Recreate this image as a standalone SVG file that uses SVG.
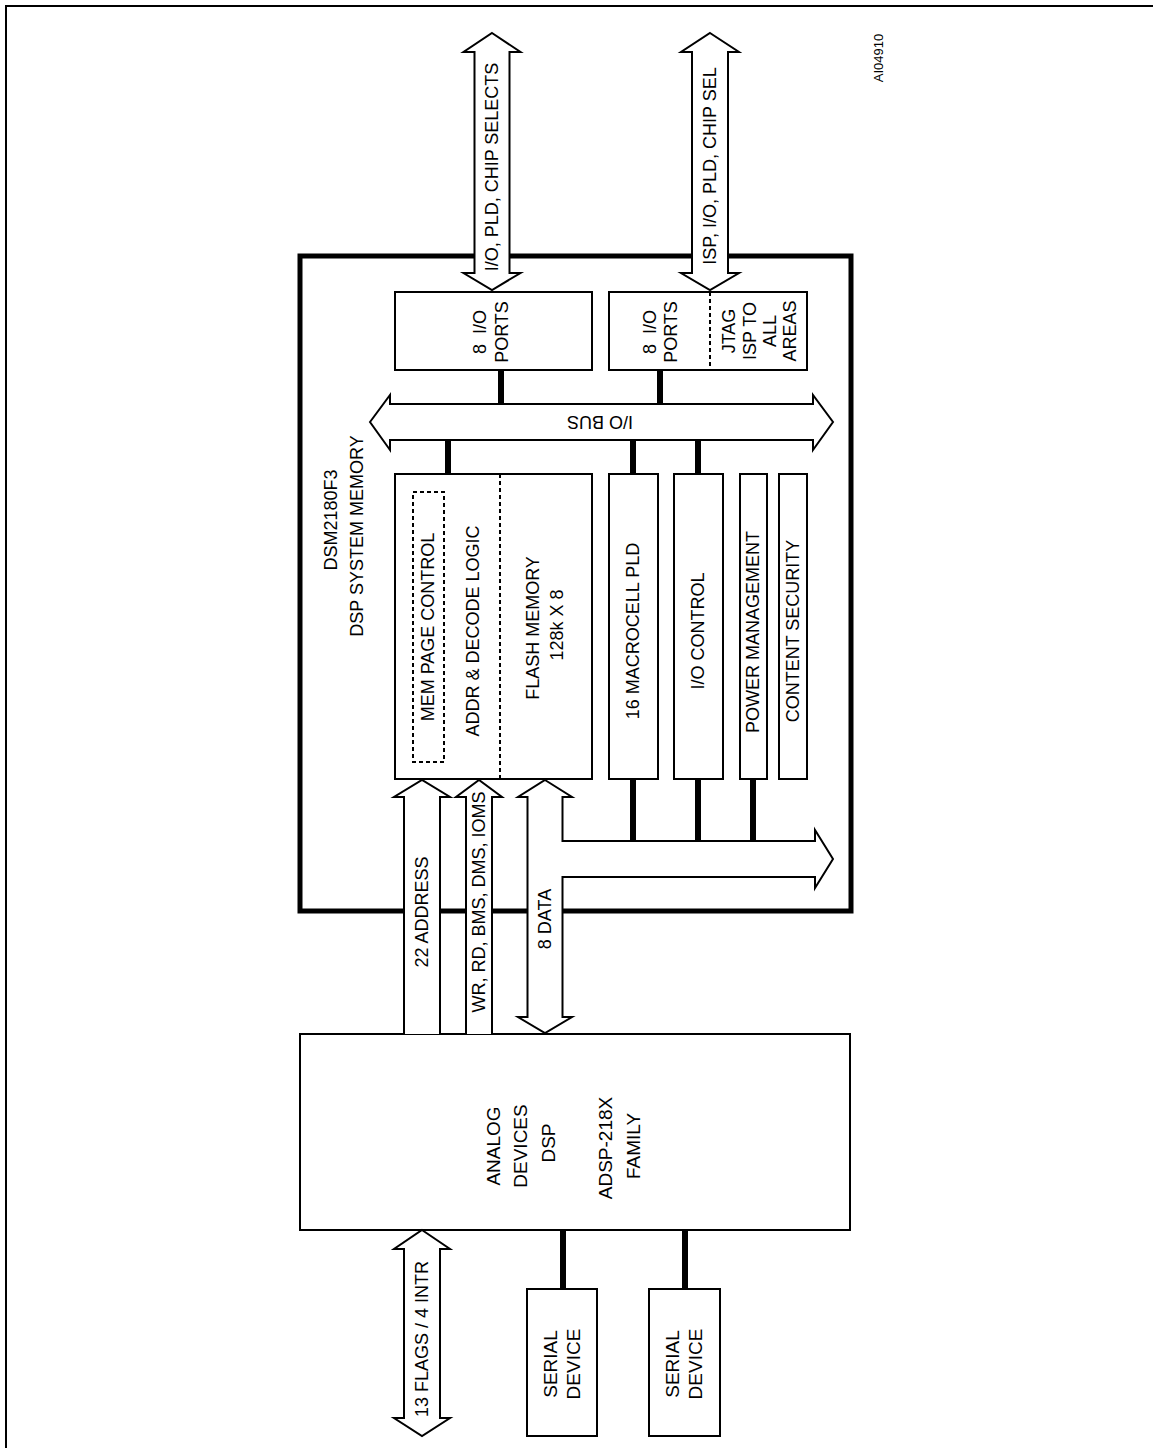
<svg xmlns="http://www.w3.org/2000/svg" width="1153" height="1448" viewBox="0 0 1153 1448">
<style>
.t{font-family:"Liberation Sans",Arial,sans-serif;font-size:18px;fill:#000;text-anchor:middle}
.b{font-family:"Liberation Sans",Arial,sans-serif;font-size:19px;fill:#000;text-anchor:middle}
.s{font-family:"Liberation Sans",Arial,sans-serif;font-size:13px;fill:#000;text-anchor:middle}
.box{fill:#fff;stroke:#000;stroke-width:2}
.dot{fill:none;stroke:#000;stroke-width:2;stroke-dasharray:4 3}
.arr{fill:#fff;stroke:#000;stroke-width:2;stroke-linejoin:miter}
.fillw{fill:#fff;stroke:none}
.line{fill:none;stroke:#000;stroke-width:2}
.con{stroke:#000;stroke-width:6}
</style>
<rect width="1153" height="1448" fill="#fff"/>
<g id="frame">
<path d="M6,1448 V6 H1153" class="line"/>
</g>
<g id="dsm">
<rect x="300" y="256" width="551" height="655" fill="#fff" stroke="#000" stroke-width="5"/>
<text class="t" transform="translate(331,520) rotate(-90)" dy="0.35em">DSM2180F3</text>
<text class="t" transform="translate(357,536) rotate(-90)" dy="0.35em">DSP SYSTEM MEMORY</text>
</g>
<g id="ports1">
<rect x="395" y="292" width="197" height="78" class="box"/>
<text class="t" transform="translate(480,332) rotate(-90)" dy="0.35em">8&#160; I/O</text>
<text class="t" transform="translate(502,332) rotate(-90)" dy="0.35em">PORTS</text>
</g>
<g id="ports2">
<rect x="609" y="292" width="198" height="78" class="box"/>
<line x1="710" y1="292" x2="710" y2="370" class="dot"/>
<text class="t" transform="translate(650,332) rotate(-90)" dy="0.35em">8&#160; I/O</text>
<text class="t" transform="translate(671,332) rotate(-90)" dy="0.35em">PORTS</text>
<text class="t" transform="translate(729,331) rotate(-90)" dy="0.35em">JTAG</text>
<text class="t" transform="translate(750,331) rotate(-90)" dy="0.35em">ISP TO</text>
<text class="t" transform="translate(770,331) rotate(-90)" dy="0.35em">ALL</text>
<text class="t" transform="translate(790,331) rotate(-90)" dy="0.35em">AREAS</text>
</g>
<g id="flash">
<rect x="395" y="474" width="197" height="305" class="box"/>
<rect x="413" y="492" width="31" height="270" class="dot"/>
<line x1="500" y1="474" x2="500" y2="779" class="dot"/>
<text class="t" transform="translate(428,627) rotate(-90)" dy="0.35em">MEM PAGE CONTROL</text>
<text class="t" transform="translate(473,631) rotate(-90)" dy="0.35em">ADDR &amp; DECODE LOGIC</text>
<text class="t" transform="translate(533,628) rotate(-90)" dy="0.35em">FLASH MEMORY</text>
<text class="t" transform="translate(557,625) rotate(-90)" dy="0.35em">128k X 8</text>
</g>
<g id="pld">
<rect x="609" y="474" width="49" height="305" class="box"/>
<text class="t" transform="translate(633,631) rotate(-90)" dy="0.35em">16 MACROCELL PLD</text>
</g>
<g id="ioctrl">
<rect x="674" y="474" width="49" height="305" class="box"/>
<text class="t" transform="translate(698,631) rotate(-90)" dy="0.35em">I/O CONTROL</text>
</g>
<g id="power">
<rect x="740" y="474" width="27" height="305" class="box"/>
<text class="t" transform="translate(753,632) rotate(-90)" dy="0.35em">POWER MANAGEMENT</text>
</g>
<g id="security">
<rect x="779" y="474" width="28" height="305" class="box"/>
<text class="t" transform="translate(793,631) rotate(-90)" dy="0.35em">CONTENT SECURITY</text>
</g>
<g id="dsp">
<rect x="300" y="1034" width="550" height="196" class="box"/>
<text class="b" transform="translate(493,1146) rotate(-90)" dy="0.35em">ANALOG</text>
<text class="b" transform="translate(520,1146) rotate(-90)" dy="0.35em">DEVICES</text>
<text class="b" transform="translate(548,1143) rotate(-90)" dy="0.35em">DSP</text>
<text class="b" transform="translate(605,1148) rotate(-90)" dy="0.35em">ADSP-218X</text>
<text class="b" transform="translate(633,1146) rotate(-90)" dy="0.35em">FAMILY</text>
</g>
<g id="serial1">
<rect x="527" y="1289" width="70" height="147" class="box"/>
<text class="b" transform="translate(550,1364) rotate(-90)" dy="0.35em">SERIAL</text>
<text class="b" transform="translate(573,1364) rotate(-90)" dy="0.35em">DEVICE</text>
</g>
<g id="serial2">
<rect x="649" y="1289" width="71" height="147" class="box"/>
<text class="b" transform="translate(672,1364) rotate(-90)" dy="0.35em">SERIAL</text>
<text class="b" transform="translate(695,1364) rotate(-90)" dy="0.35em">DEVICE</text>
</g>
<g id="label">
<text class="s" transform="translate(878,58) rotate(-90)" dy="0.35em">AI04910</text>
</g>
<g id="connectors">
<line x1="501" y1="370" x2="501" y2="404" class="con"/>
<line x1="660" y1="370" x2="660" y2="404" class="con"/>
<line x1="448" y1="440" x2="448" y2="474" class="con"/>
<line x1="633" y1="440" x2="633" y2="474" class="con"/>
<line x1="698" y1="440" x2="698" y2="474" class="con"/>
<line x1="633" y1="779" x2="633" y2="841" class="con"/>
<line x1="698" y1="779" x2="698" y2="841" class="con"/>
<line x1="753" y1="779" x2="753" y2="841" class="con"/>
<line x1="563" y1="1230" x2="563" y2="1289" class="con"/>
<line x1="685" y1="1230" x2="685" y2="1289" class="con"/>
<path class="arr" d="M492,33 L520.5,52 H509.5 V273 H520.5 L492,290 L463.5,273 H474.5 V52 H463.5 Z"/>
<path class="arr" d="M710,33 L739,52 H728 V273 H739 L710,290 L681,273 H692 V52 H681 Z"/>
<path class="arr" d="M370,422 L390,395 V404 H813 V395 L833,422 L813,450 V440 H390 V450 Z"/>
<path class="fillw" d="M422,780 L450,797 H440 V1034 H404 V797 H394 Z"/>
<path class="line" d="M404,1034 V797 H394 L422,780 L450,797 H440 V1034"/>
<path class="fillw" d="M479,780 L502,797 H492 V1034 H466 V797 H456 Z"/>
<path class="line" d="M466,1034 V797 H456 L479,780 L502,797 H492 V1034"/>
<path class="arr" d="M545,780 L572,797 H562.5 V841 H815 V830 L833,859 L815,888 V877 H562.5 V1017 H572 L545,1033 L518,1017 H527.5 V797 H518 Z"/>
<path class="arr" d="M422,1230 L450,1249 H440 V1418 H450 L422,1436 L394,1418 H404 V1249 H394 Z"/>
<text class="t" transform="translate(492,167) rotate(-90)" dy="0.35em">I/O, PLD, CHIP SELECTS</text>
<text class="t" transform="translate(710,166) rotate(-90)" dy="0.35em">ISP, I/O, PLD, CHIP SEL</text>
<text class="t" transform="translate(600,422) rotate(180)" dy="0.35em">I/O BUS</text>
<text class="t" transform="translate(422,912) rotate(-90)" dy="0.35em">22 ADDRESS</text>
<text class="t" transform="translate(479,902) rotate(-90)" dy="0.35em">WR, RD, BMS, DMS, IOMS</text>
<text class="t" transform="translate(545,919) rotate(-90)" dy="0.35em">8 DATA</text>
<text class="t" transform="translate(422,1339) rotate(-90)" dy="0.35em">13 FLAGS / 4 INTR</text>
</g>
</svg>
